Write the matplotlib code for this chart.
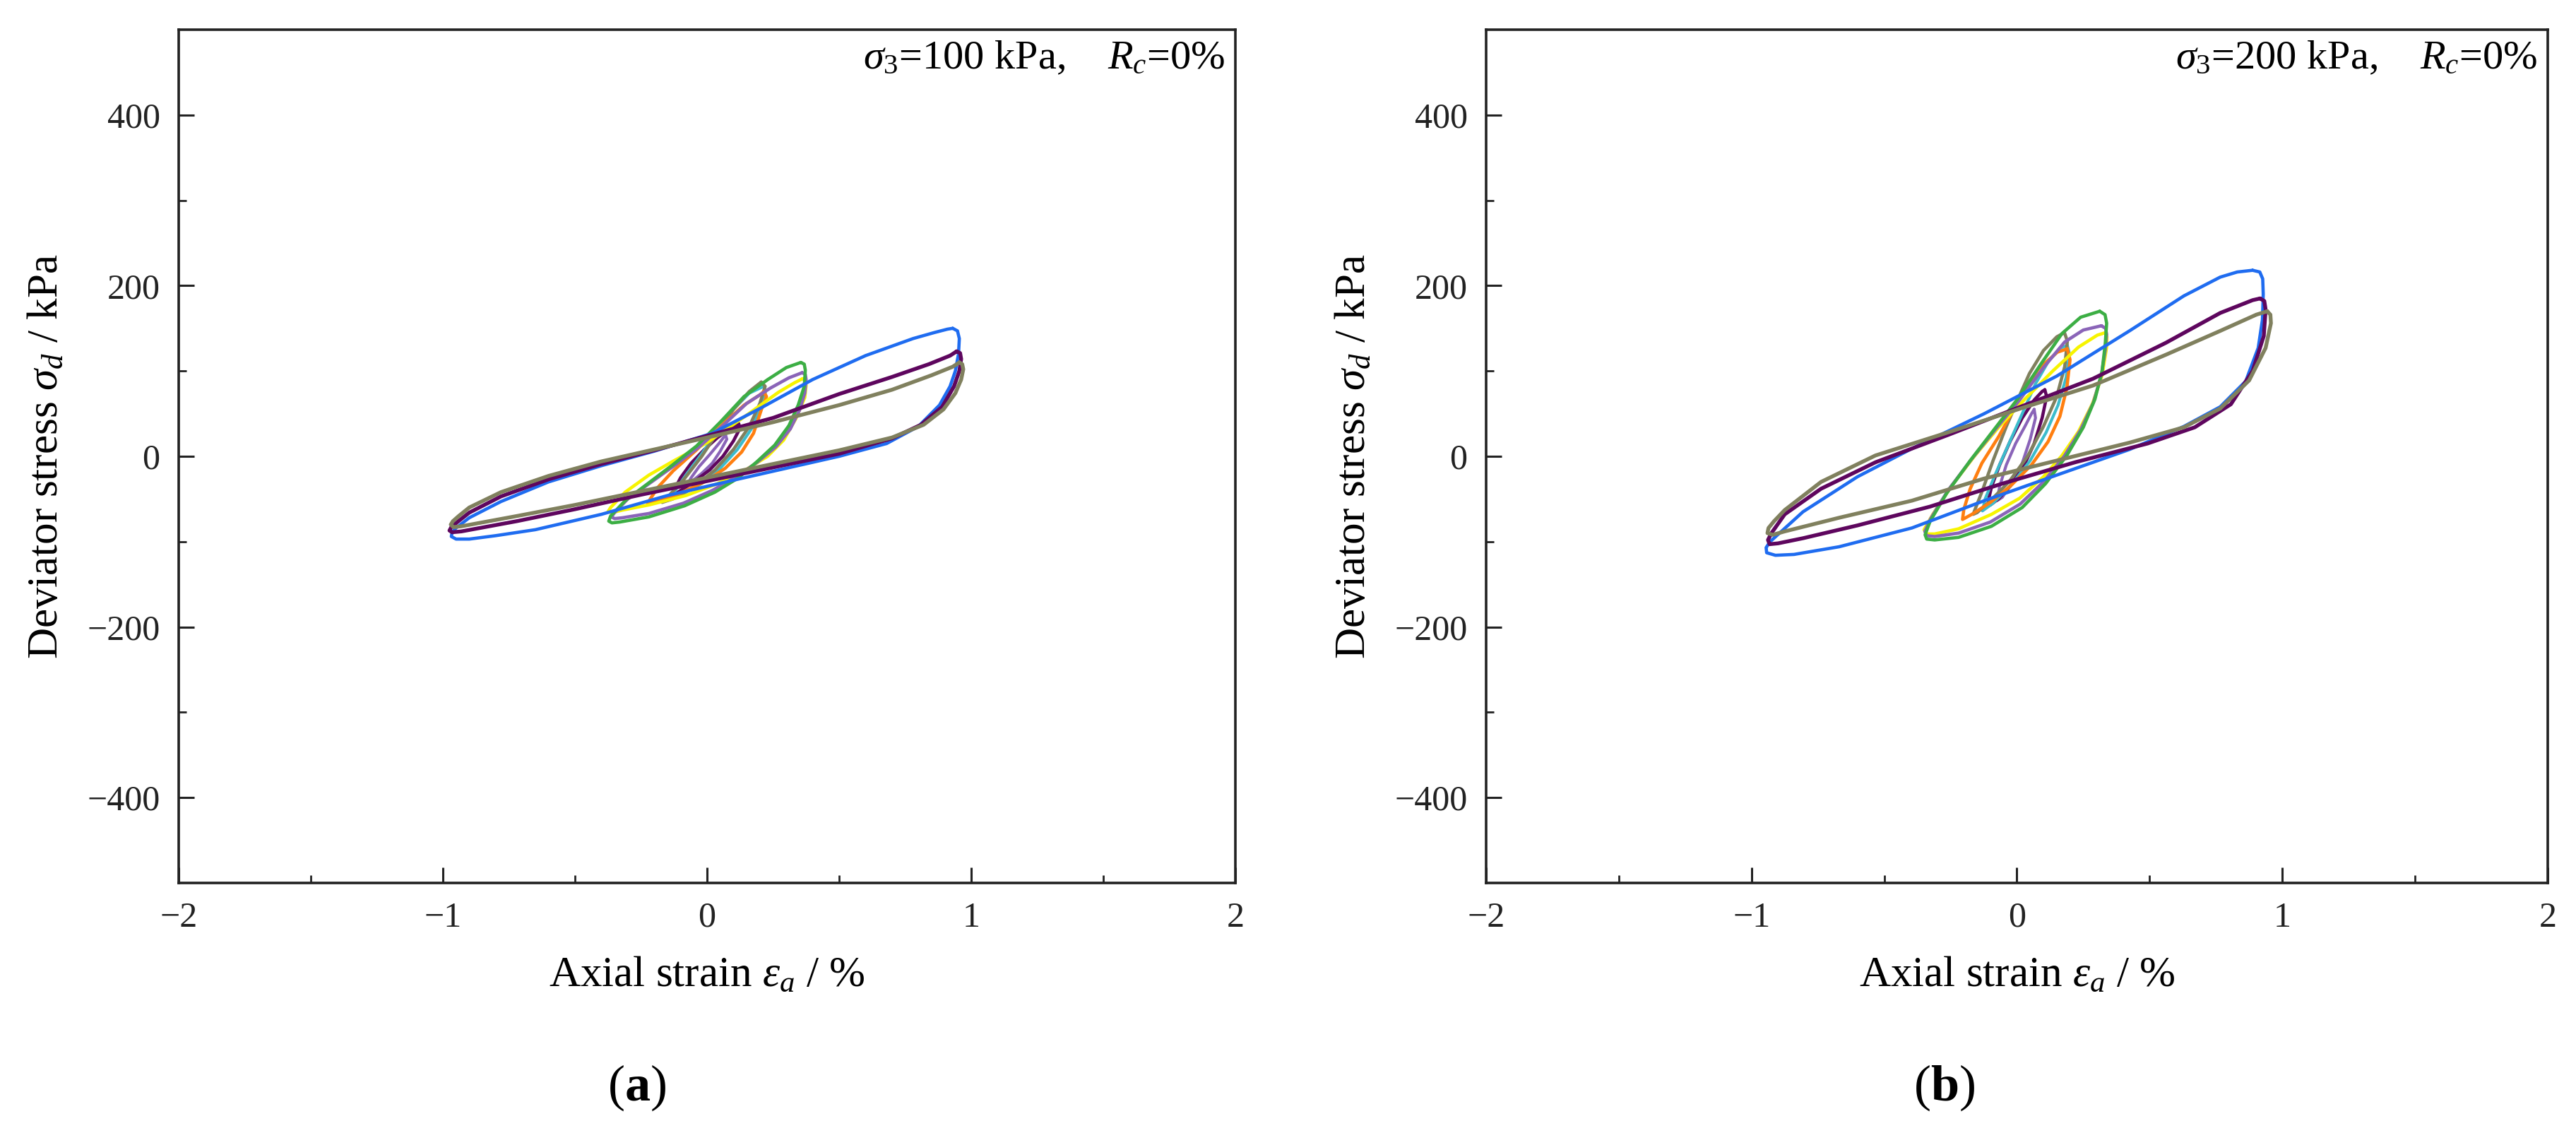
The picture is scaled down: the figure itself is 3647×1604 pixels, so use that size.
import matplotlib
matplotlib.use("Agg")
import matplotlib.pyplot as plt

plt.rcParams['font.family'] = ['Liberation Serif', 'DejaVu Serif']
plt.rcParams['mathtext.fontset'] = 'custom'
plt.rcParams['mathtext.rm'] = 'Liberation Serif'
plt.rcParams['mathtext.it'] = 'Liberation Serif:italic'
plt.rcParams['mathtext.bf'] = 'Liberation Serif:bold'

# ---------------- data: panel (a) sigma3 = 100 kPa ----------------
a_blue_x = [0.93, 0.948, 0.955, 0.952, 0.94, 0.92, 0.88, 0.80, 0.68, 0.50, 0.30, 0.10, -0.15, -0.40, -0.65, -0.80, -0.90, -0.95, -0.968, -0.965, -0.95, -0.90, -0.78, -0.60, -0.40, -0.20, 0.02, 0.20, 0.40, 0.60, 0.78, 0.86, 0.91, 0.93]
a_blue_y = [150, 147, 138, 120, 100, 82, 60, 35, 15, 0, -14, -28, -46, -68, -86, -93, -97, -97, -94, -89, -84, -72, -53, -30, -11, 6, 27, 56, 90, 118, 138, 145, 149, 150]
a_purple_x = [0.945, 0.958, 0.962, 0.955, 0.935, 0.89, 0.81, 0.70, 0.50, 0.25, 0.0, -0.25, -0.50, -0.72, -0.86, -0.93, -0.965, -0.975, -0.968, -0.945, -0.90, -0.78, -0.60, -0.40, -0.20, 0.0, 0.25, 0.50, 0.70, 0.84, 0.92, 0.945]
a_purple_y = [123, 121, 114, 100, 82, 58, 37, 21, 3, -13, -29, -45, -62, -76, -84, -88, -89, -87, -83, -77, -66, -47, -27, -9, 7, 24, 45, 73, 93, 108, 118, 123]
a_olive_x = [0.955, 0.966, 0.97, 0.962, 0.94, 0.895, 0.82, 0.70, 0.50, 0.25, 0.0, -0.25, -0.50, -0.72, -0.86, -0.93, -0.96, -0.97, -0.962, -0.94, -0.90, -0.78, -0.60, -0.40, -0.20, 0.0, 0.25, 0.50, 0.70, 0.85, 0.93, 0.955]
a_olive_y = [110, 108, 102, 90, 74, 55, 37, 22, 7, -9, -25, -41, -57, -70, -78, -82, -83, -80, -76, -70, -60, -42, -23, -6, 8, 22, 40, 60, 78, 95, 105, 110]
a_green_x = [0.355, 0.368, 0.372, 0.368, 0.345, 0.31, 0.256, 0.19, 0.12, 0.03, -0.085, -0.22, -0.33, -0.36, -0.372, -0.365, -0.31, -0.22, -0.13, -0.04, 0.05, 0.14, 0.23, 0.30, 0.355]
a_green_y = [110, 108, 101, 82, 60, 36, 13, -6, -25, -42, -58, -71, -77, -78, -76, -70, -52, -31, -10, 12, 40, 70, 90, 104, 110]
a_lav_x = [0.36, 0.372, 0.375, 0.37, 0.35, 0.315, 0.26, 0.19, 0.11, 0.02, -0.09, -0.22, -0.32, -0.35, -0.362, -0.35, -0.30, -0.21, -0.12, -0.03, 0.06, 0.15, 0.24, 0.31, 0.36]
a_lav_y = [98, 96, 90, 74, 54, 32, 11, -7, -24, -40, -55, -67, -72, -73, -71, -66, -50, -30, -10, 11, 36, 62, 80, 92, 98]
a_yellow_x = [0.362, 0.372, 0.375, 0.37, 0.336, 0.29, 0.229, 0.14, 0.04, -0.08, -0.22, -0.32, -0.36, -0.375, -0.365, -0.31, -0.22, -0.13, 0.0, 0.14, 0.27, 0.33, 0.362]
a_yellow_y = [91, 89, 83, 69, 44, 19, 0, -17, -32, -46, -57, -63, -66, -65, -60, -42, -22, -6, 16, 46, 75, 86, 91]
a_orange_x = [0.215, 0.225, 0.206, 0.176, 0.131, 0.069, -0.01, -0.10, -0.18, -0.225, -0.215, -0.185, -0.128, -0.038, 0.051, 0.14, 0.20, 0.215]
a_orange_y = [76, 70, 55, 27, 5, -14, -30, -43, -52, -56, -50, -36, -17, 8, 35, 60, 72, 76]
a_olive_s_x = [0.205, 0.22, 0.2, 0.16, 0.10, 0.03, -0.05, -0.13, -0.17, -0.15, -0.09, -0.02, 0.04, 0.10, 0.16, 0.205]
a_olive_s_y = [87, 82, 62, 35, 8, -16, -36, -50, -54, -48, -28, 0, 28, 55, 76, 87]
a_cyan_x = [0.215, 0.222, 0.205, 0.17, 0.115, 0.05, -0.02, -0.09, -0.13, -0.12, -0.08, -0.02, 0.04, 0.10, 0.16, 0.215]
a_cyan_y = [82, 76, 58, 33, 8, -14, -32, -44, -49, -40, -22, 3, 30, 55, 74, 82]
a_dpurple_s_x = [0.12, 0.125, 0.10, 0.06, 0.01, -0.05, -0.10, -0.13, -0.125, -0.10, -0.06, -0.01, 0.04, 0.09, 0.12]
a_dpurple_s_y = [38, 33, 18, 0, -16, -30, -40, -46, -40, -25, -8, 8, 22, 33, 38]
a_lav_s_x = [0.07, 0.075, 0.05, 0.02, -0.02, -0.06, -0.075, -0.06, -0.03, 0.01, 0.045, 0.07]
a_lav_s_y = [25, 20, 6, -8, -20, -30, -33, -25, -12, 2, 15, 25]

# ---------------- data: panel (b) sigma3 = 200 kPa ----------------
b_blue_x = [0.888, 0.915, 0.926, 0.928, 0.925, 0.909, 0.862, 0.766, 0.629, 0.424, 0.15, -0.123, -0.396, -0.67, -0.84, -0.91, -0.943, -0.945, -0.93, -0.806, -0.601, -0.396, -0.123, 0.15, 0.424, 0.629, 0.766, 0.83, 0.888]
b_blue_y = [218, 216, 208, 190, 160, 127, 88, 58, 35, 8, -22, -52, -84, -106, -115, -116, -113, -107, -100, -65, -24, 9, 50, 94, 147, 188, 210, 216, 218]
b_purple_x = [0.916, 0.932, 0.937, 0.93, 0.888, 0.806, 0.67, 0.492, 0.219, -0.055, -0.328, -0.601, -0.806, -0.90, -0.932, -0.938, -0.925, -0.875, -0.738, -0.533, -0.26, 0.013, 0.287, 0.561, 0.766, 0.888, 0.916]
b_purple_y = [185, 182, 172, 141, 100, 61, 34, 15, -7, -32, -59, -81, -96, -102, -103, -98, -90, -68, -38, -7, 25, 58, 91, 133, 168, 183, 185]
b_olive_x = [0.943, 0.955, 0.957, 0.937, 0.875, 0.766, 0.629, 0.424, 0.15, -0.123, -0.396, -0.67, -0.875, -0.92, -0.94, -0.936, -0.915, -0.875, -0.738, -0.533, -0.26, 0.013, 0.287, 0.561, 0.766, 0.902, 0.943]
b_olive_y = [170, 166, 156, 127, 89, 56, 34, 16, -5, -26, -52, -72, -88, -92, -90, -84, -76, -63, -30, 1, 28, 56, 83, 119, 147, 166, 170]
b_green_x = [0.312, 0.332, 0.338, 0.333, 0.321, 0.294, 0.25, 0.188, 0.108, 0.02, -0.096, -0.22, -0.31, -0.34, -0.346, -0.327, -0.264, -0.176, -0.087, 0.002, 0.09, 0.17, 0.24, 0.312]
b_green_y = [170, 166, 156, 133, 100, 67, 34, 1, -32, -60, -82, -95, -98, -97, -92, -76, -43, -5, 31, 67, 108, 144, 163, 170]
b_lav_x = [0.318, 0.334, 0.338, 0.333, 0.318, 0.288, 0.24, 0.178, 0.10, 0.012, -0.10, -0.22, -0.31, -0.34, -0.347, -0.325, -0.26, -0.17, -0.08, 0.01, 0.10, 0.18, 0.25, 0.318]
b_lav_y = [153, 150, 143, 125, 95, 63, 31, 0, -30, -56, -77, -90, -94, -93, -88, -73, -40, -3, 32, 66, 104, 134, 148, 153]
b_yellow_x = [0.334, 0.339, 0.338, 0.321, 0.285, 0.232, 0.17, 0.10, 0.011, -0.096, -0.22, -0.31, -0.34, -0.35, -0.317, -0.247, -0.158, -0.069, 0.03, 0.135, 0.232, 0.303, 0.334]
b_yellow_y = [145, 140, 128, 95, 62, 29, 1, -24, -49, -68, -85, -91, -91, -86, -68, -35, 1, 34, 67, 100, 128, 142, 145]
b_orange_x = [0.19, 0.2, 0.188, 0.162, 0.117, 0.055, -0.025, -0.10, -0.17, -0.205, -0.2, -0.176, -0.132, -0.069, 0.0, 0.08, 0.152, 0.19]
b_orange_y = [126, 113, 80, 47, 17, -10, -35, -54, -68, -74, -62, -38, -8, 23, 62, 102, 122, 126]
b_olive_s_x = [0.179, 0.19, 0.18, 0.15, 0.10, 0.04, -0.03, -0.10, -0.15, -0.165, -0.13, -0.09, -0.04, 0.011, 0.047, 0.10, 0.15, 0.179]
b_olive_s_y = [145, 135, 105, 70, 35, 0, -30, -52, -66, -68, -40, -5, 35, 72, 97, 124, 140, 145]
b_cyan_x = [0.19, 0.198, 0.185, 0.155, 0.11, 0.05, -0.02, -0.09, -0.13, -0.12, -0.08, -0.03, 0.02, 0.07, 0.12, 0.165, 0.19]
b_cyan_y = [130, 120, 92, 60, 28, -5, -33, -55, -64, -50, -20, 15, 50, 85, 112, 127, 130]
b_dpurple_s_x = [0.105, 0.112, 0.095, 0.065, 0.025, -0.025, -0.07, -0.10, -0.108, -0.095, -0.065, -0.025, 0.02, 0.065, 0.095, 0.105]
b_dpurple_s_y = [78, 70, 45, 15, -12, -35, -50, -57, -52, -35, -10, 18, 45, 66, 76, 78]
b_lav_s_x = [0.065, 0.07, 0.05, 0.02, -0.02, -0.055, -0.075, -0.065, -0.04, -0.005, 0.03, 0.055, 0.065]
b_lav_s_y = [55, 45, 20, -8, -32, -48, -52, -35, -10, 15, 35, 50, 55]

x_ticks = [-2, -1, 0, 1, 2]
x_minor = [-1.5, -0.5, 0.5, 1.5]
y_ticks = [-400, -200, 0, 200, 400]
y_minor = [-300, -100, 100, 300]
annotations = [r"$\sigma_3$=100 kPa,    $R_c$=0%", r"$\sigma_3$=200 kPa,    $R_c$=0%"]
panel_labels = [r"($\mathbf{a}$)", r"($\mathbf{b}$)"]
x_label = "Axial strain $\u03b5_a$ / %"
y_label = r"Deviator stress $\sigma_d$ / kPa"

C = {
    'blue': '#1f6cf0', 'purple': '#5e065e', 'olive': '#80805e', 'green': '#3cae44',
    'lav': '#8a64b8', 'yellow': '#f7f400', 'orange': '#ff7f10', 'cyan': '#3cbccc',
}

panel_a = [
    (a_lav_s_x, a_lav_s_y, 'lav', 3.0),
    (a_dpurple_s_x, a_dpurple_s_y, 'purple', 3.3),
    (a_cyan_x, a_cyan_y, 'cyan', 3.0),
    (a_olive_s_x, a_olive_s_y, 'olive', 3.3),
    (a_orange_x, a_orange_y, 'orange', 3.3),
    (a_yellow_x, a_yellow_y, 'yellow', 3.3),
    (a_lav_x, a_lav_y, 'lav', 3.3),
    (a_green_x, a_green_y, 'green', 3.3),
    (a_blue_x, a_blue_y, 'blue', 3.3),
    (a_purple_x, a_purple_y, 'purple', 3.9),
    (a_olive_x, a_olive_y, 'olive', 3.9),
]
panel_b = [
    (b_lav_s_x, b_lav_s_y, 'lav', 3.0),
    (b_dpurple_s_x, b_dpurple_s_y, 'purple', 3.3),
    (b_cyan_x, b_cyan_y, 'cyan', 3.0),
    (b_olive_s_x, b_olive_s_y, 'olive', 3.3),
    (b_orange_x, b_orange_y, 'orange', 3.3),
    (b_yellow_x, b_yellow_y, 'yellow', 3.3),
    (b_lav_x, b_lav_y, 'lav', 3.3),
    (b_green_x, b_green_y, 'green', 3.3),
    (b_blue_x, b_blue_y, 'blue', 3.3),
    (b_purple_x, b_purple_y, 'purple', 3.9),
    (b_olive_x, b_olive_y, 'olive', 3.9),
]

W, H = 3648, 1604
fig = plt.figure(figsize=(W / 100, H / 100), dpi=100)
axes_px = [(253, 1496), (2104, 1503)]
label_cx = [902, 2753]

for i, (loops, (x0, w)) in enumerate(zip([panel_a, panel_b], axes_px)):
    ax = fig.add_axes([x0 / W, 1 - 1250 / H, w / W, 1208 / H])
    for xs, ys, c, lw in loops:
        ax.plot(xs, ys, color=C[c], lw=lw, solid_joinstyle='round', solid_capstyle='round')
    ax.set_xlim(-2, 2)
    ax.set_ylim(-500, 500)
    ax.set_xticks(x_ticks)
    ax.set_xticks(x_minor, minor=True)
    ax.set_yticks(y_ticks)
    ax.set_yticks(y_minor, minor=True)
    ax.tick_params(which='major', direction='in', length=16, width=2.2, labelsize=36,
                   pad=19, top=False, right=False, colors='#222222')
    ax.tick_params(which='minor', direction='in', length=8, width=2.0,
                   top=False, right=False, colors='#222222')
    for s in ax.spines.values():
        s.set_linewidth(2.6)
        s.set_color('#222222')
    ax.set_xlabel(x_label, fontsize=44)
    ax.set_ylabel(y_label, fontsize=44)
    ax.xaxis.set_label_coords(0.5, -0.085)
    ax.yaxis.set_label_coords(-159 / w, 0.5)
    ax.text(0.99, 0.988, annotations[i], transform=ax.transAxes, ha='right', va='top',
            fontsize=42)
    fig.text(label_cx[i] / W, 1 - 1540 / H, panel_labels[i], ha='center', va='center',
             fontsize=52)

fig.savefig("out.png", dpi=100, facecolor='white')
